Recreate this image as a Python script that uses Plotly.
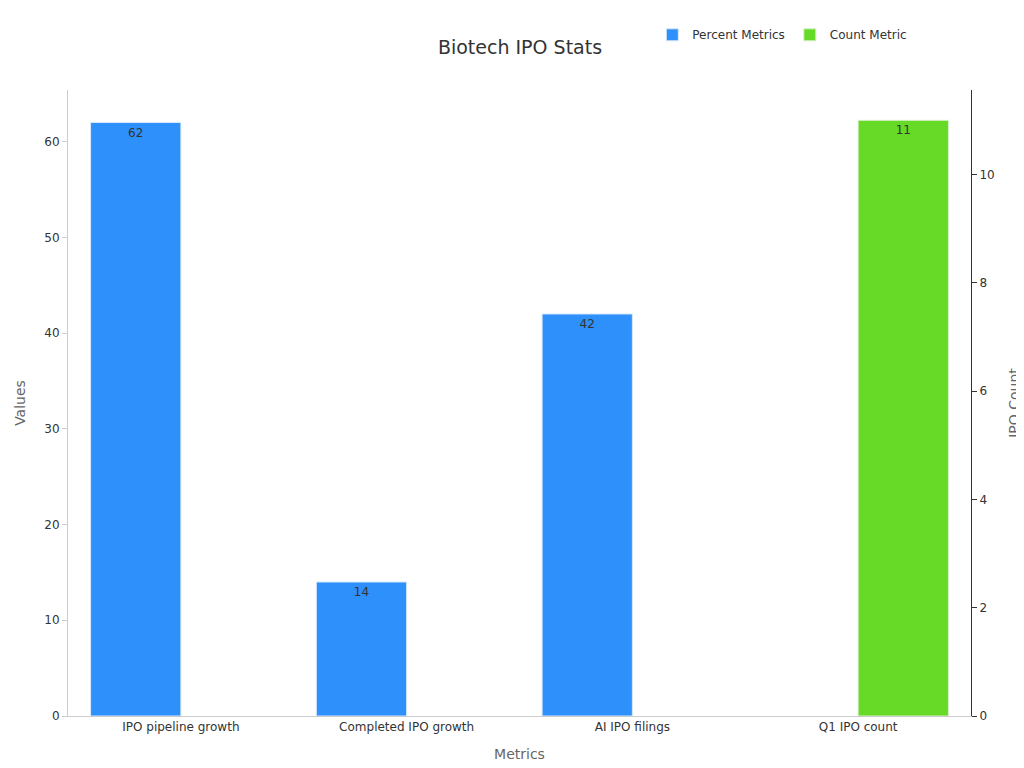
import plotly.graph_objects as go

categories = ["IPO pipeline growth", "Completed IPO growth", "AI IPO filings", "Q1 IPO count"]
percent_values = [62, 14, 42, None]
count_values = [None, None, None, 11]

fig = go.Figure()
fig.add_trace(go.Bar(x=categories, y=percent_values, name="Percent Metrics",
                     marker=dict(color="#2E90FA", line=dict(color="#d8e8fb", width=1)),
                     offset=-0.4, width=0.4,
                     text=[str(v) if v is not None else "" for v in percent_values],
                     textposition="inside", insidetextanchor="end",
                     textfont=dict(color="#333", size=12), yaxis="y"))
fig.add_trace(go.Bar(x=categories, y=count_values, name="Count Metric",
                     marker=dict(color="#66DA26", line=dict(color="#d8f0c8", width=1)),
                     offset=0.0, width=0.4,
                     text=[str(v) if v is not None else "" for v in count_values],
                     textposition="inside", insidetextanchor="end",
                     textfont=dict(color="#333", size=12), yaxis="y2"))

fig.update_layout(
    width=1024, height=768,
    paper_bgcolor="white", plot_bgcolor="white",
    font=dict(family="DejaVu Sans", color="#333", size=12),
    title=dict(text="Biotech IPO Stats", x=0.5, y=0.957, xanchor="center",
               font=dict(size=19, color="#333")),
    margin=dict(l=60, r=61, t=80, b=60),
    showlegend=True,
    legend=dict(orientation="h", x=0.935, xanchor="right", y=1.065, yanchor="bottom",
                font=dict(size=12)),
    xaxis=dict(title=dict(text="Metrics", font=dict(color="#666", size=14), standoff=15),
               showline=True, linecolor="#ccc", ticks="", showgrid=False, tickfont=dict(size=12)),
    yaxis=dict(title=dict(text="Values", font=dict(color="#666", size=14)),
               range=[0, 65.4], dtick=10, showline=True, linecolor="#ccc", ticks="outside",
               tickcolor="#ccc", showgrid=False, zeroline=False),
    yaxis2=dict(title=dict(text="IPO Count", font=dict(color="#666", size=14)),
                overlaying="y", side="right", range=[0, 11.56], dtick=2,
                showline=True, linecolor="#333", ticks="outside", tickcolor="#333",
                showgrid=False, zeroline=False),
)
fig.write_html("out.html")
